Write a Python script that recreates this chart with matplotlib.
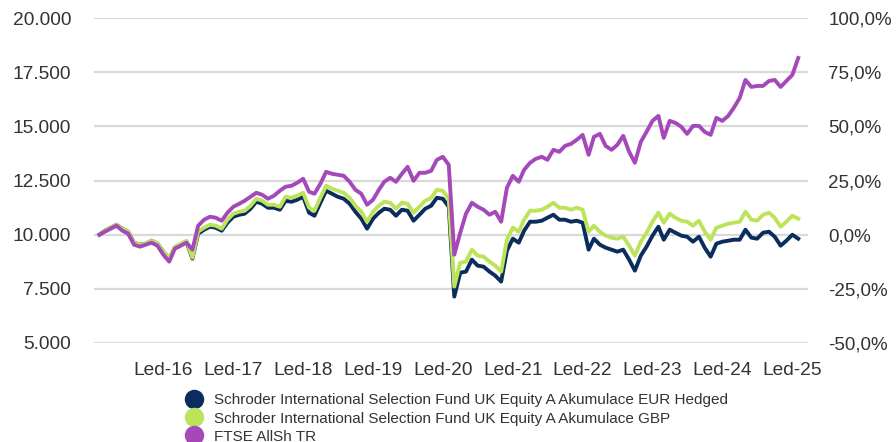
import numpy as np
import pandas as pd
import matplotlib.pyplot as plt
import matplotlib.dates as mdates
from matplotlib.lines import Line2D
from matplotlib.ticker import FuncFormatter

plt.rcParams['font.family'] = ['Liberation Sans', 'DejaVu Sans']

# monthly values, growth of 10 000 (Feb 2015 - Feb 2025)
months = pd.date_range('2015-02-01', '2025-02-01', freq='MS')

eur_hedged = [
    10000, 10184, 10323, 10461, 10277, 10138, 9631, 9539, 9585, 9723,
    9585, 9216, 8894, 9401, 9539, 9677, 8894, 10046, 10231, 10369,
    10323, 10184, 10553, 10830, 10922, 10968, 11199, 11521, 11429, 11245,
    11245, 11153, 11567, 11521, 11614, 11752, 11014, 10876, 11475, 12028,
    11890, 11752, 11660, 11429, 11060, 10738, 10277, 10738, 11014, 11199,
    11153, 10876, 11153, 11106, 10645, 10922, 11199, 11337, 11706, 11660,
    11291, 7142, 8248, 8294, 8848, 8571, 8525, 8294, 8110, 7833,
    9262, 9816, 9631, 10184, 10599, 10599, 10645, 10784, 10922, 10692,
    10692, 10599, 10645, 10553, 9309, 9816, 9539, 9401, 9309, 9216,
    9309, 8848, 8340, 9032, 9447, 9954, 10369, 9769, 10231, 10092,
    9954, 9908, 9677, 9908, 9401, 8986, 9585, 9677, 9723, 9769,
    9769, 10231, 9862, 9816, 10092, 10138, 9908, 9493, 9723, 10000,
    9815,
]

gbp = [
    10000, 10184, 10323, 10461, 10277, 10138, 9631, 9539, 9585, 9723,
    9585, 9216, 8940, 9447, 9585, 9723, 8940, 10138, 10323, 10461,
    10415, 10277, 10692, 10968, 11060, 11106, 11337, 11660, 11567, 11383,
    11383, 11291, 11752, 11706, 11798, 11936, 11245, 11106, 11706, 12259,
    12121, 12028, 11936, 11706, 11337, 11060, 10599, 11060, 11337, 11521,
    11475, 11199, 11475, 11429, 11014, 11291, 11567, 11706, 12075, 12028,
    11660, 7603, 8709, 8755, 9309, 9032, 8986, 8755, 8571, 8294,
    9769, 10323, 10138, 10692, 11106, 11106, 11153, 11291, 11475, 11245,
    11245, 11153, 11245, 11153, 10138, 10415, 10138, 9954, 9862, 9816,
    9908, 9493, 9032, 9677, 10092, 10599, 11014, 10553, 10968, 10784,
    10645, 10599, 10415, 10645, 10138, 9769, 10323, 10415, 10507, 10553,
    10599, 11060, 10692, 10645, 10922, 11014, 10784, 10369, 10599, 10876,
    10738,
]

ftse = [
    10000, 10138, 10277, 10415, 10184, 10046, 9539, 9447, 9539, 9631,
    9493, 9078, 8755, 9355, 9493, 9631, 9309, 10415, 10692, 10830,
    10784, 10645, 11014, 11291, 11429, 11567, 11752, 11936, 11844, 11660,
    11798, 12028, 12213, 12259, 12397, 12582, 11982, 11890, 12351, 12904,
    12812, 12766, 12720, 12443, 12075, 11890, 11383, 11614, 12075, 12443,
    12628, 12443, 12812, 13135, 12489, 12858, 12858, 12950, 13458, 13596,
    13227, 9078, 10092, 10968, 11475, 11291, 11153, 10922, 11060, 10599,
    12167, 12720, 12443, 12997, 13319, 13504, 13596, 13458, 13919, 13826,
    14103, 14195, 14380, 14610, 13688, 14518, 14656, 14103, 13919, 14149,
    14564, 13826, 13319, 14287, 14748, 15255, 15486, 14472, 15255, 15163,
    14979, 14656, 15025, 15025, 14748, 14610, 15394, 15255, 15486, 15855,
    16316, 17146, 16823, 16869, 16869, 17099, 17146, 16823, 17099, 17376,
    18160,
]

names = [
    'Schroder International Selection Fund UK Equity A Akumulace EUR Hedged',
    'Schroder International Selection Fund UK Equity A Akumulace GBP',
    'FTSE AllSh TR',
]
colors = ['#0a2d5e', '#bde35b', '#a448ba']
series = [eur_hedged, gbp, ftse]

text_color = '#333333'
grid_color = '#d9d9d9'

fig = plt.figure(figsize=(8.96, 4.42), dpi=100)
ax = fig.add_axes([0.105, 0.224, 0.797, 0.735])

ax.set_axisbelow(True)
ax.grid(axis='y', color=grid_color, linewidth=1.6)
for vals, c in zip(series, colors):
    ax.plot(months, vals, color=c, linewidth=2.8, solid_joinstyle='round')

ax.set_ylim(5000, 20000)
ax.set_yticks(np.arange(5000, 20001, 2500))
ax.yaxis.set_major_formatter(FuncFormatter(lambda v, p: f'{v:,.0f}'.replace(',', '.')))
ax.set_xlim(pd.Timestamp('2015-01-04'), pd.Timestamp('2025-03-25'))

years = pd.date_range('2016-01-01', '2025-01-01', freq='YS')
ax.set_xticks(years)
ax.set_xticklabels([f'Led-{d:%y}' for d in years])

for s in ax.spines.values():
    s.set_visible(False)
ax.tick_params(axis='both', length=0, labelsize=13.8, colors=text_color)
ax.tick_params(axis='y', pad=16.5)
ax.tick_params(axis='x', pad=14)

# right axis in percent
ax2 = ax.twinx()
ax2.set_ylim(-0.5, 1.0)
ax2.set_yticks(np.arange(-0.5, 1.01, 0.25))
ax2.yaxis.set_major_formatter(FuncFormatter(lambda v, p: f'{v * 100:.1f}%'.replace('.', ',')))
for s in ax2.spines.values():
    s.set_visible(False)
ax2.tick_params(axis='y', length=0, labelsize=13.5, colors=text_color, pad=14.5)

handles = [Line2D([], [], linestyle='none', marker='o', markersize=13,
                  markerfacecolor=c, markeredgecolor=c) for c in colors]
fig.legend(handles, names, loc='upper left', bbox_to_anchor=(0.2, 0.11),
           frameon=False, fontsize=11, labelcolor=text_color,
           handletextpad=0.3, labelspacing=0.27, borderaxespad=0,
           borderpad=0)

fig.savefig('out.png', dpi=100)
